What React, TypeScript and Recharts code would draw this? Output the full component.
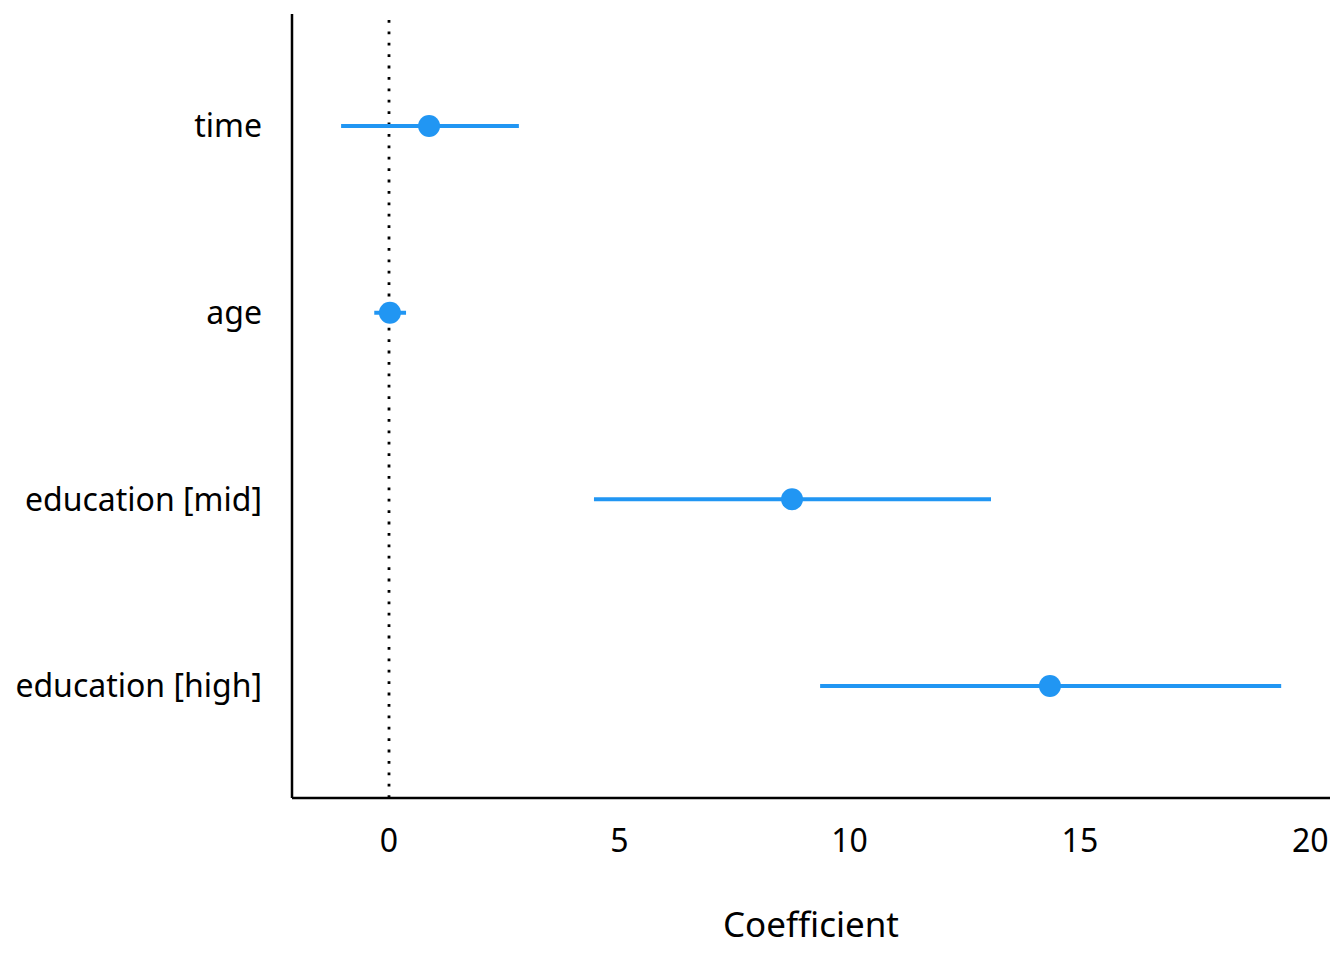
import React from 'react';
import {
  ScatterChart,
  Scatter,
  XAxis,
  YAxis,
  ErrorBar,
  ReferenceLine,
  Label,
} from 'recharts';

const terms = ['time', 'age', 'education [mid]', 'education [high]'];
const estimates = [0.87, 0.02, 8.75, 14.35];
const lowerCI = [-1.04, -0.32, 4.45, 9.36];
const upperCI = [2.82, 0.37, 13.07, 19.37];
const xTicks = [0, 5, 10, 15, 20];

const BLUE = '#2196F3';
const FONT = '"Noto Sans", "Open Sans", sans-serif';

// top term sits highest, so position counts down
const rows = terms.map((term, i) => ({
  term,
  pos: terms.length - i,
  est: estimates[i],
  err: [estimates[i] - lowerCI[i], upperCI[i] - estimates[i]],
}));

const Dot = (props: any) => <circle cx={props.cx} cy={props.cy} r={11} fill={BLUE} />;

const App: React.FC = () => {
  return (
    <div style={{ position: 'absolute', left: 0, top: 0, background: '#fff' }}>
      <ScatterChart width={1344} height={960} margin={{ top: 14, right: 14, bottom: 0, left: 0 }}>
        <ReferenceLine x={0} stroke="#000" strokeWidth={2.8} strokeDasharray="2.8 8.6" />
        <XAxis
          type="number"
          dataKey="est"
          domain={[-2.106, 20.43]}
          ticks={xTicks}
          allowDataOverflow
          height={162}
          tickLine={false}
          tickSize={0}
          tickMargin={31}
          axisLine={{ stroke: '#000', strokeWidth: 2.5 }}
          tick={{ fontSize: 32, fill: '#000', fontFamily: FONT }}
        >
          <Label
            value="Coefficient"
            position="insideBottom"
            offset={23}
            style={{ fontSize: 35, fill: '#000', fontFamily: FONT }}
          />
        </XAxis>
        <YAxis
          type="number"
          dataKey="pos"
          domain={[0.4, 4.6]}
          ticks={[1, 2, 3, 4]}
          allowDataOverflow
          width={292}
          tickFormatter={(v: number) => terms[terms.length - v]}
          tickLine={false}
          tickSize={0}
          tickMargin={30}
          axisLine={{ stroke: '#000', strokeWidth: 2.5 }}
          tick={{ fontSize: 32, fill: '#000', fontFamily: FONT }}
        />
        <Scatter data={rows} fill={BLUE} shape={Dot} isAnimationActive={false}>
          <ErrorBar dataKey="err" direction="x" width={0} stroke={BLUE} strokeWidth={4} />
        </Scatter>
      </ScatterChart>
    </div>
  );
};

export default App;
